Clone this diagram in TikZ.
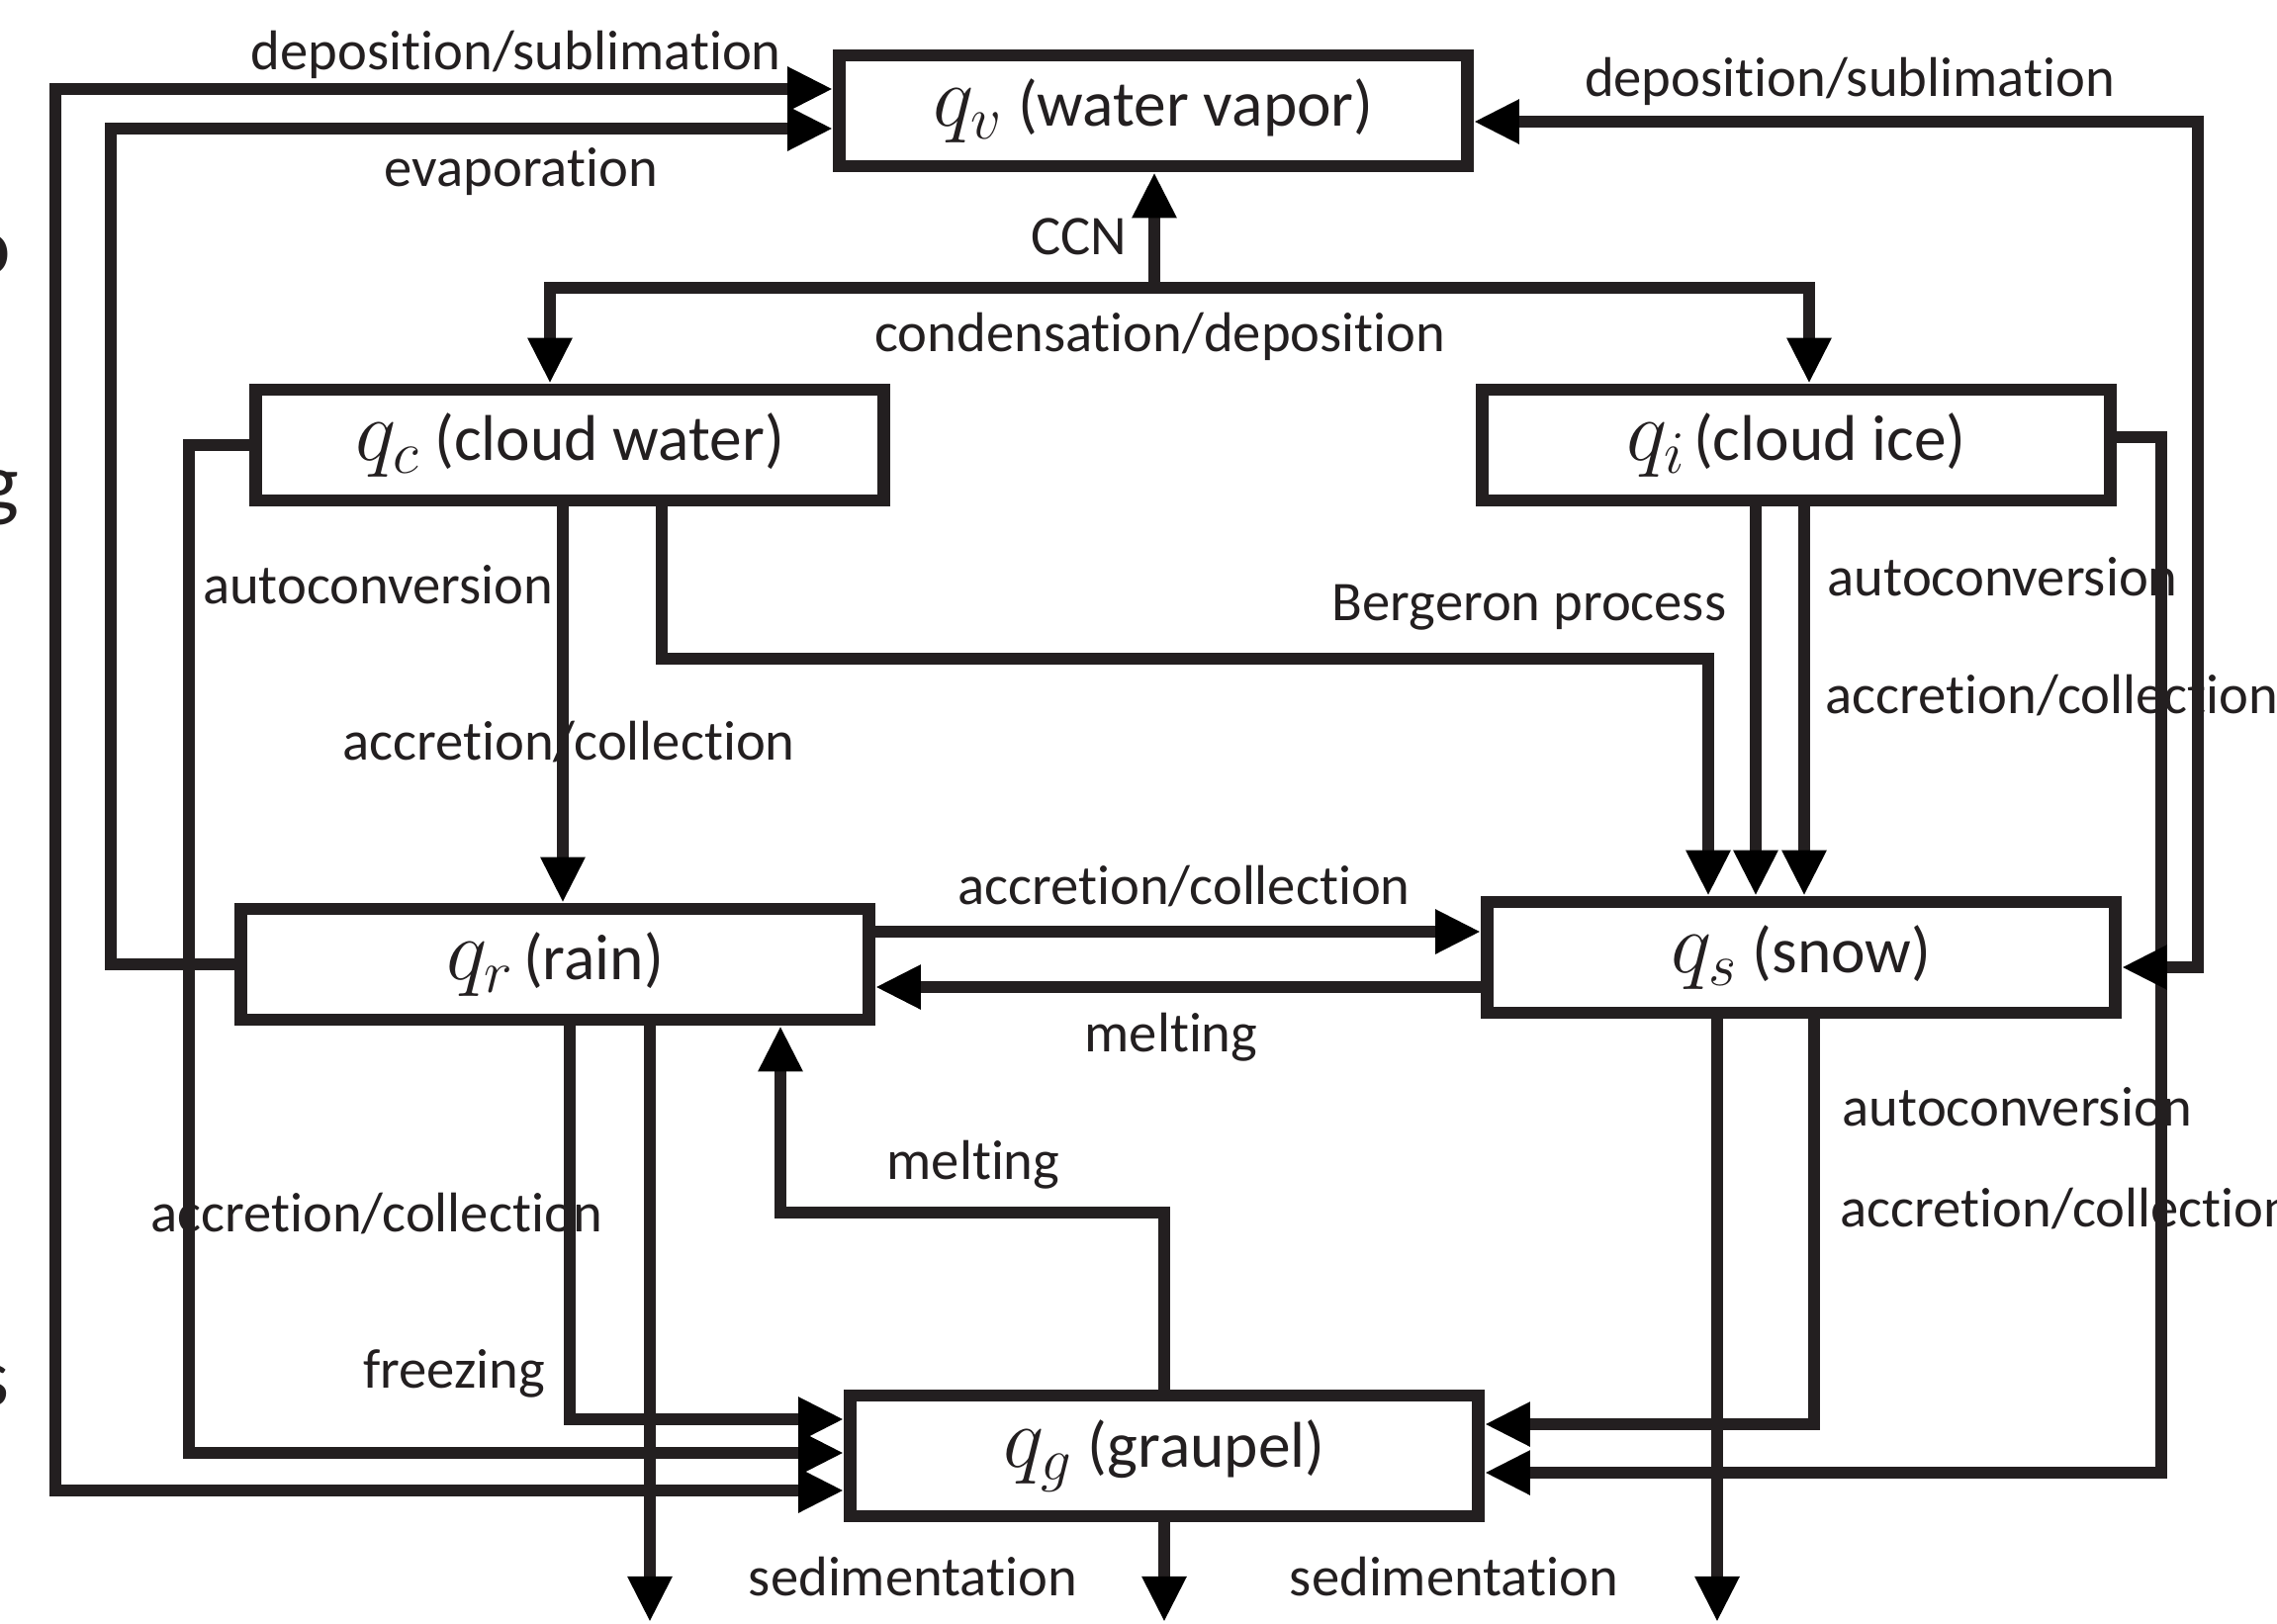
\documentclass[tikz,border=0pt]{standalone}
\usepackage{fontspec}
\setmainfont{Carlito}[Ligatures={NoCommon}]
\usetikzlibrary{arrows.meta,calc}
\definecolor{ink}{RGB}{35,31,32}
\newcommand\qsym[1]{{\fontsize{24.5}{28}\selectfont$q_{#1}$}}
\begin{document}
\begin{tikzpicture}[x=0.01cm,y=-0.01cm,
  box/.style={draw=ink, line width=0.125cm, minimum width=6.35cm, minimum height=1.12cm,
    inner sep=0pt, fill=white, text=ink, font=\fontsize{18.6}{21}\selectfont},
  lbl/.style={font=\fontsize{16.1}{19}\selectfont, text=ink, inner sep=0pt, anchor=base},
  frag/.style={font=\fontsize{24}{28}\selectfont, text=ink, inner sep=0pt, anchor=base east},
  tip/.tip={Triangle[length=0.46cm,width=0.42cm,color=black]},
  flow/.style={draw=ink, line width=0.115cm, line join=miter, -tip},
  flowtwo/.style={draw=ink, line width=0.115cm, line join=miter, tip-tip}
]
\useasboundingbox[fill=white] (0,0) rectangle (2302,1642);

% boxes
\node[box] (qv) at (1166,112) {\qsym{v} (water vapor)};
\node[box] (qc) at (576,450) {\qsym{c} (cloud water)};
\node[box] (qi) at (1816,450) {\qsym{i}\hspace{0.12em}(cloud ice)};
\node[box] (qr) at (561,975) {\qsym{r}\hspace{0.15em}(rain)};
\node[box] (qs) at (1821,968) {\qsym{s} (snow)};
\node[box, minimum height=1.22cm] (qg) at (1177,1472) {\qsym{g} (graupel)};

% cut-off letters at the left edge
\node[frag] (x1) at (12,277) {o};
\node[frag] (x2) at (20,516) {g};
\node[frag] (x3) at (10,1421) {s};

% labels
\node[lbl] (t1) at (522,70) {deposition/sublimation};
\node[lbl] (t2) at (527,188) {evaporation};
\node[lbl] (t3) at (1091,257) {CCN};
\node[lbl] (t4) at (1173,355) {condensation/deposition};
\node[lbl] (t5) at (1870,97) {deposition/sublimation};
\node[lbl] (t6) at (382,610) {autoconversion};
\node[lbl] (t7) at (575,768) {accretion/collection};
\node[lbl] (t8) at (1546,627) {Bergeron process};
\node[lbl, anchor=base west] (t9) at (1847,602) {autoconversion};
\node[lbl, anchor=base west] (t10) at (1845,721) {accretion/collection};
\node[lbl] (t11) at (1197,914) {accretion/collection};
\node[lbl] (t12) at (1184,1063) {melting};
\node[lbl] (t13) at (984,1192) {melting};
\node[lbl] (t14) at (381,1245) {accretion/collection};
\node[lbl] (t15) at (459,1403) {freezing};
\node[lbl, anchor=base west] (t16) at (1862,1138) {autoconversion};
\node[lbl, anchor=base west] (t17) at (1860,1240) {accretion/collection};
\node[lbl] (t18) at (923,1613) {sedimentation};
\node[lbl] (t19) at (1470,1613) {sedimentation};

% helper coordinates
\coordinate (a1) at (56,1507);
\coordinate (a2) at (56,90);
\coordinate (b2) at (112,130);
\coordinate (c2) at (191,1469);
\coordinate (d1) at (576,1435);
\coordinate (e1) at (657,1640);
\coordinate (f1) at (789,1226);
\coordinate (h1) at (1736,1640);
\coordinate (i1) at (1834,1440);
\coordinate (j0) at (2185,442);
\coordinate (j1) at (2185,1489);
\coordinate (k0) at (2222,123);
\coordinate (k1) at (2222,978);
\coordinate (m0) at (1167,291);
\coordinate (n1) at (556,291);
\coordinate (n2) at (1829,291);
\coordinate (p1) at (569,0);
\coordinate (q1) at (669,666);
\coordinate (q2) at (1727,666);
\coordinate (r1) at (1775,0);
\coordinate (r2) at (1824,0);
\coordinate (s1) at (0,942);
\coordinate (s2) at (0,998);

% connectors
\draw[flowtwo] (qg.west |- a1) -- (a1) -- (a2) -- (qv.west |- a2);
\draw[flow] (qr.west) -| (b2) -- (qv.west |- b2);
\draw[flow] (qc.west) -| (c2) -- (qg.west |- c2);
\draw[flow] (qr.south -| d1) -- (d1) -- (qg.west |- d1);
\draw[flow] (qr.south -| e1) -- (e1);
\draw[flow] (qg.north) |- (f1) -- (qr.south -| f1);
\draw[flow] (qg.south) -- (qg.south |- e1);
\draw[flow] (qs.south -| h1) -- (h1);
\draw[flow] (qs.south -| i1) -- (i1) -- (qg.east |- i1);
\draw[flow] (qi.east |- j0) -- (j0) -- (j1) -- (qg.east |- j1);
\draw[flowtwo] (qv.east |- k0) -- (k0) -- (k1) -- (qs.east |- k1);
\draw[flow] (m0) -- (qv.south -| m0);
\draw[flow] (m0) -- (n1) -- (qc.north -| n1);
\draw[flow] (m0) -- (n2) -- (qi.north -| n2);
\draw[flow] (qc.south -| p1) -- (qr.north -| p1);
\draw[flow] (qc.south -| q1) -- (q1) -- (q2) -- (qs.north -| q2);
\draw[flow] (qi.south -| r1) -- (qs.north -| r1);
\draw[flow] (qi.south -| r2) -- (qs.north -| r2);
\draw[flow] (qr.east |- s1) -- (qs.west |- s1);
\draw[flow] (qs.west |- s2) -- (qr.east |- s2);
\end{tikzpicture}
\end{document}
